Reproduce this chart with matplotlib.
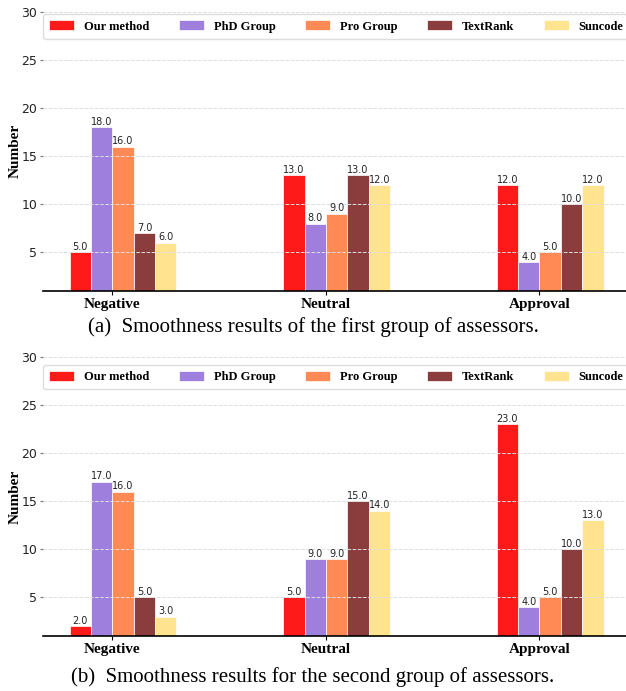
import numpy as np
import matplotlib.pyplot as plt

categories = ['Negative', 'Neutral', 'Approval']
methods = ['Our method', 'PhD Group', 'Pro Group', 'TextRank', 'Suncode']
colors = ['#FF1A1A', '#9F7FDD', '#FF8A55', '#8B3D3D', '#FFE38E']

# panel (a): first group of assessors
first_group = [
    [5, 13, 12],
    [18, 8, 4],
    [16, 9, 5],
    [7, 13, 10],
    [6, 12, 12],
]
# panel (b): second group of assessors
second_group = [
    [2, 5, 23],
    [17, 9, 4],
    [16, 9, 5],
    [5, 15, 10],
    [3, 14, 13],
]
captions = ['(a)  Smoothness results of the first group of assessors.',
            '(b)  Smoothness results for the second group of assessors.']

serif = 'Liberation Serif'
fig = plt.figure(figsize=(6.26, 6.91), dpi=100)
ax_a = fig.add_axes([0.0687, 0.579, 0.938, 0.404])
ax_b = fig.add_axes([0.0687, 0.0796, 0.938, 0.404])

x = np.arange(len(categories))
width = 0.1

# legend top offsets and caption positions differ a bit between panels
leg_top = [1 - 2.5 / 279, 1 - 8 / 279]
cap_y = [-0.13, -0.147]

for k, (ax, data, cap) in enumerate(zip([ax_a, ax_b], [first_group, second_group], captions)):
    for i, (name, vals, c) in enumerate(zip(methods, data, colors)):
        rects = ax.bar(x + (i - 2) * width, vals, width, align='edge', color=c,
                       edgecolor='white', linewidth=0.5, label=name, zorder=2)
        for r, v in zip(rects, vals):
            ax.text(r.get_x() + r.get_width() / 2, v + 0.05, f'{v:.1f}',
                    ha='center', va='bottom', fontsize=7, color='#222222', zorder=4)
    ax.set_ylim(1, 30)
    ax.set_yticks([5, 10, 15, 20, 25, 30])
    ax.set_xticks(x)
    ax.set_xticklabels(categories, fontfamily=serif, fontweight='bold', fontsize=11)
    ax.tick_params(axis='x', length=3, width=0.8, pad=2)
    ax.tick_params(axis='y', length=2, width=0.8, color='#777777', labelsize=9,
                   labelcolor='#222222', pad=2)
    ax.grid(axis='y', linestyle='--', color='#DDDDDD', linewidth=0.7, zorder=3)
    ax.set_axisbelow(False)
    for s in ['left', 'right', 'top']:
        ax.spines[s].set_visible(False)
    ax.spines['bottom'].set_linewidth(1.2)
    ax.set_ylabel('Number', fontfamily=serif, fontweight='bold', fontsize=11, labelpad=0)
    leg = ax.legend(loc='upper left', bbox_to_anchor=(0.0, leg_top[k]),
                    ncol=5, prop={'family': serif, 'weight': 'bold', 'size': 9},
                    handlelength=2.0, handleheight=0.8, handletextpad=0.8,
                    columnspacing=2.35, borderaxespad=0.0, borderpad=0.5,
                    frameon=True, fancybox=True, framealpha=1)
    leg.get_frame().set_edgecolor('#DDDDDD')
    ax.text(0.46, cap_y[k], cap, transform=ax.transAxes, ha='center', va='center',
            fontfamily=serif, fontsize=15)

fig.savefig('out.png', dpi=100)
